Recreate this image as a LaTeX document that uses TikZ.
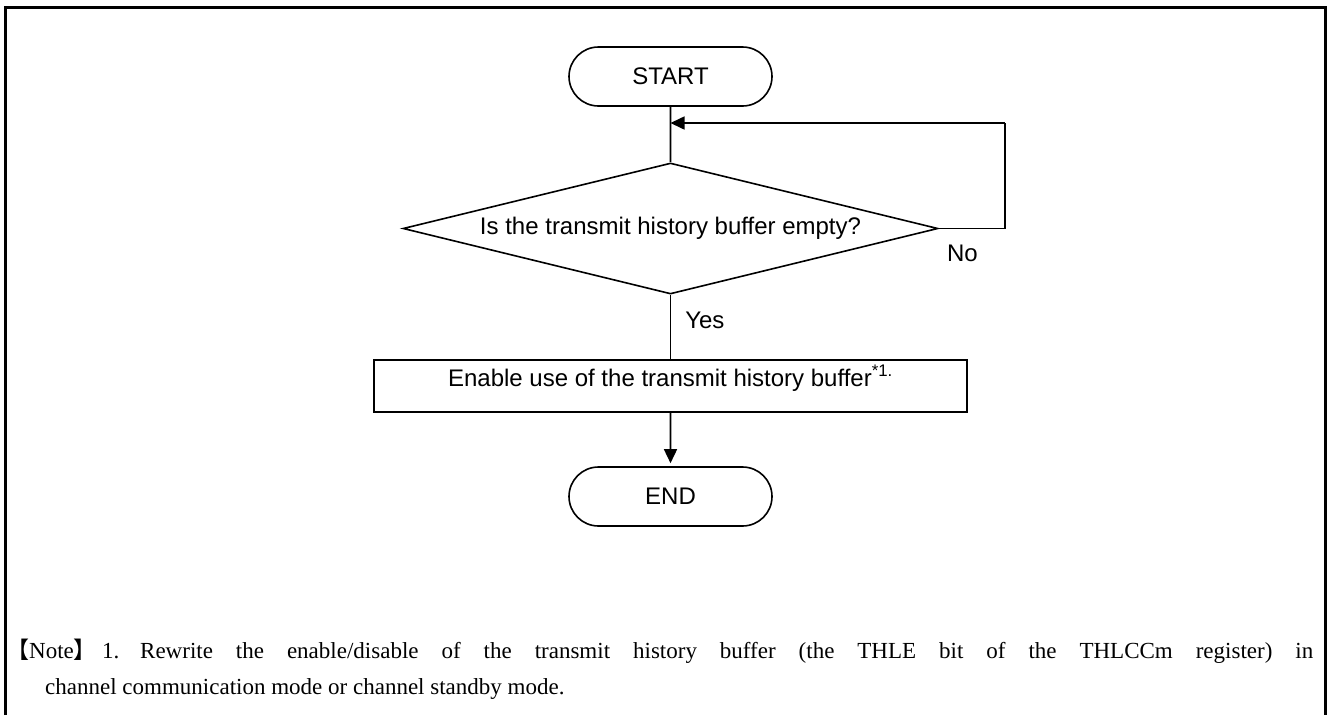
\documentclass[tikz,border=0pt]{standalone}
\usepackage{fontspec}
\setmainfont{Liberation Serif}
\newfontfamily\flowfont{Liberation Sans}
\newfontfamily\cjkfont{Noto Sans CJK JP}
\usetikzlibrary{positioning,shapes.misc,shapes.geometric,arrows.meta}

\begin{document}
\begin{tikzpicture}[x=1pt,y=-1pt,
	flow/.style={draw,line width=1.6pt,inner sep=0pt,font=\flowfont\fontsize{24}{28}\selectfont},
	terminal/.style={flow,rounded rectangle,minimum width=203pt,minimum height=59pt},
	decision/.style={flow,diamond,aspect=4.08,minimum width=535pt,minimum height=131pt},
	process/.style={flow,rectangle,minimum width=593pt,minimum height=52pt,text height=18pt,text depth=18pt},
	link/.style={line width=1.6pt},
	flowarrow/.style={link,-{Triangle[length=14pt,width=13pt]}},
	tag/.style={inner sep=0pt,font=\flowfont\fontsize{24}{28}\selectfont},
	note/.style={inner sep=0pt,anchor=base west,font=\fontsize{23}{36}\selectfont}]
%		\draw[lightgray] (0,0) grid[step=50] (1328,715);
		\useasboundingbox (0,0) rectangle (1328,715);
		\draw[line width=3pt] (5,715) -- (5,7) -- (1325,7) -- (1325,715);
		\node[terminal] (start) at (670.5,76.5) {START};
		\node[decision] (check) at (670.5,228.5) {Is the transmit history buffer empty?};
		\node[process] (enable) at (670.5,386) {Enable use of the transmit history buffer\textsuperscript{*1.}};
		\node[terminal] (end) at (670.5,496.5) {END};
		\coordinate (turn) at (1005,123);
		\coordinate (merge) at (start.south |- turn);
		\draw[link] (start) -- (check);
		\draw[link] (check.east) -- (check.east -| turn) -- (turn);
		\draw[flowarrow] (turn) -- (merge);
		\node[tag,anchor=north west] (no) at ([xshift=8pt,yshift=-16pt]check.east) {No};
		\draw[link] (check) -- node[tag,anchor=west,pos=0.4,xshift=14pt] (yes) {Yes} (enable);
		\draw[flowarrow,shorten >=3pt] (enable) -- (end);
		% note below the chart
		\node[note] (notehead) at (6,658) {{\cjkfont 【}Note{\cjkfont 】}};
		\node[note,text width=1268pt,align=justify] (notebody) at (45,658)
			{\hspace*{57pt}\makebox[38pt][l]{1.}Rewrite the enable/disable of the transmit history buffer (the THLE bit of the THLCCm register) in\linebreak channel communication mode or channel standby mode.};
	\end{tikzpicture}
\end{document}
